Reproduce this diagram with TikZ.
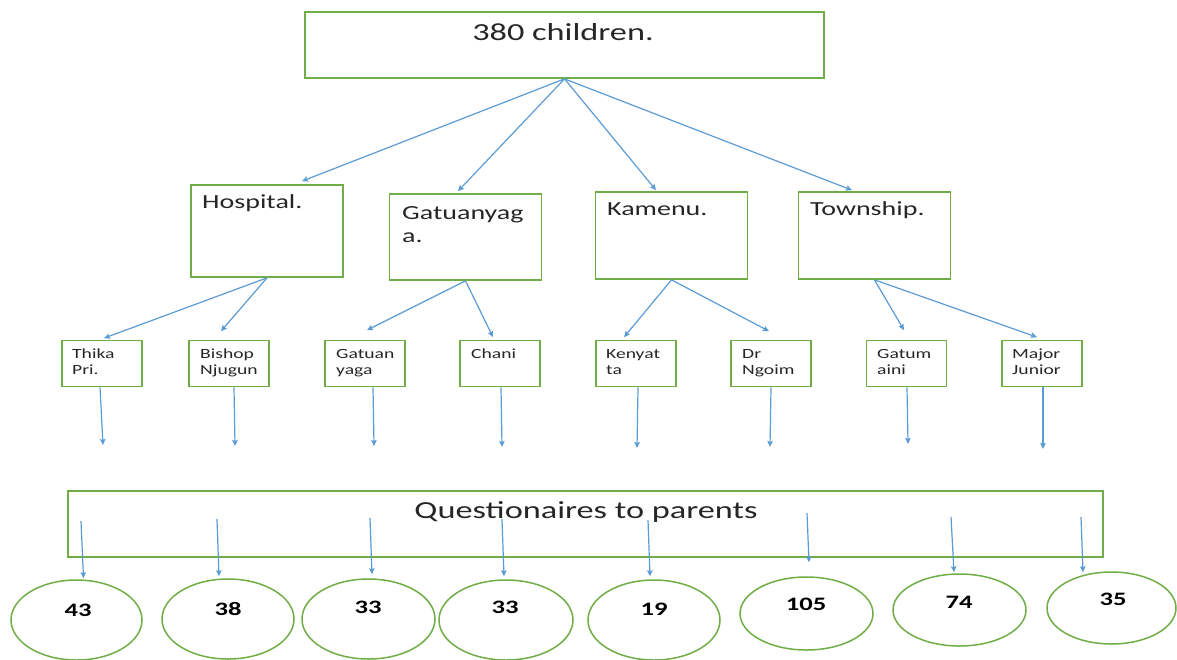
\documentclass[tikz,border=0pt]{standalone}
\usepackage{fontspec}
\setmainfont{Carlito}
\newfontfamily\cf[FakeStretch=1.4]{Carlito}
\usetikzlibrary{arrows.meta,shapes.geometric}
\definecolor{boxgreen}{HTML}{70AD47}
\definecolor{arrblue}{HTML}{5B9BD5}
\definecolor{txt}{HTML}{262626}
\tikzset{
  gbox/.style={draw=boxgreen,line width=1.7pt,rectangle,inner sep=0pt,fill=white},
  topbox/.style={gbox,minimum width=519pt,minimum height=66pt},
  midbox/.style={gbox,minimum width=152pt,minimum height=87pt},
  smallbox/.style={gbox,minimum width=80pt,minimum height=46pt},
  circ/.style={draw=boxgreen,line width=1.5pt,ellipse,inner sep=0pt},
  bigtxt/.style={inner sep=0pt,text=txt,font=\cf\fontsize{24.5}{29}\selectfont,anchor=base},
  midtxt/.style={inner sep=0pt,text=txt,font=\cf\fontsize{20}{23}\selectfont,anchor=base west,align=left},
  smalltxt/.style={inner sep=0pt,text=txt,font=\cf\fontsize{14}{16}\selectfont,anchor=base west,align=left},
  numtxt/.style={inner sep=0pt,text=black,font=\cf\bfseries\fontsize{19}{22}\selectfont,anchor=center},
  arr/.style={draw=arrblue,line width=1.2pt,-{Stealth[length=6pt,width=5.5pt,inset=1pt]}}
}
\begin{document}
\begin{tikzpicture}[x=1pt,y=-1pt]
\useasboundingbox (0,0) rectangle (1177,659);
\clip (0,0) rectangle (1177,659);
% top
\node[topbox] (top) at (564.5,45) {};
\node[bigtxt] (toptxt) at (563,40) {380 children.};
% middle boxes
\node[midbox,minimum height=92pt] (hosp) at (267,231) {};
\node[midbox,minimum height=86pt] (gat) at (465.5,237) {};
\node[midbox] (kam) at (671.5,235.5) {};
\node[midbox] (town) at (874.5,235.5) {};
\node[midtxt] (hosptxt) at (202,208) {Hospital.};
\node[midtxt] (gattxt) at (402,242) {Gatuanyag\\a.};
\node[midtxt] (kamtxt) at (607,215) {Kamenu.};
\node[midtxt] (towntxt) at (810,215) {Township.};
% small boxes
\node[smallbox] (thika) at (102,363.5) {};
\node[smallbox] (bishop) at (229,363.5) {};
\node[smallbox] (gatuan) at (365,363.5) {};
\node[smallbox] (chani) at (500,363.5) {};
\node[smallbox] (kenyatta) at (636,363.5) {};
\node[smallbox] (drngoim) at (771,363.5) {};
\node[smallbox] (gatum) at (906.5,363.5) {};
\node[smallbox] (major) at (1042,363.5) {};
\node[smalltxt] (thikatxt) at (72,374) {Thika\\Pri.};
\node[smalltxt] (bishoptxt) at (200,374) {Bishop\\Njugun};
\node[smalltxt] (gatuantxt) at (336,374) {Gatuan\\yaga};
\node[smalltxt] (chanitxt) at (471,358) {Chani};
\node[smalltxt] (kenyattatxt) at (606,374) {Kenyat\\ta};
\node[smalltxt] (drngoimtxt) at (742,374) {Dr\\Ngoim};
\node[smalltxt] (gatumtxt) at (877,374) {Gatum\\aini};
\node[smalltxt] (majortxt) at (1012,374) {Major\\Junior};
% questionnaire box
\node[gbox,minimum width=1035pt,minimum height=66pt] (quest) at (585.5,524) {};
\node[bigtxt] (questtxt) at (586,518) {Questionaires to parents};
% ellipses
\node[circ,minimum width=131pt,minimum height=80pt] (e1) at (76.5,620) {};
\node[circ,minimum width=132pt,minimum height=80pt] (e2) at (228,619) {};
\node[circ,minimum width=133pt,minimum height=80pt] (e3) at (368.5,619) {};
\node[circ,minimum width=134pt,minimum height=80pt] (e4) at (506,620) {};
\node[circ,minimum width=132pt,minimum height=80pt] (e5) at (654,620) {};
\node[circ,minimum width=133pt,minimum height=73pt] (e6) at (806.5,613.5) {};
\node[circ,minimum width=133pt,minimum height=72pt] (e7) at (959.5,610) {};
\node[circ,minimum width=129pt,minimum height=72pt] (e8) at (1111.5,608) {};
\node[numtxt] (n1) at (78,610) {43};
\node[numtxt] (n2) at (228,609) {38};
\node[numtxt] (n3) at (368,607) {33};
\node[numtxt] (n4) at (505,607) {33};
\node[numtxt] (n5) at (654,609) {19};
\node[numtxt] (n6) at (806,604) {105};
\node[numtxt] (n7) at (959,602) {74};
\node[numtxt] (n8) at (1113,599) {35};
% arrows top -> middle
\draw[arr] (top.south) -- ([xshift=35pt,yshift=3pt]hosp.north);
\draw[arr] (top.south) -- ([xshift=-7.5pt,yshift=2pt]gat.north);
\draw[arr] (top.south) -- ([xshift=-15.5pt,yshift=1pt]kam.north);
\draw[arr] (top.south) -- ([xshift=-22.5pt,yshift=1pt]town.north);
% middle -> small
\draw[arr] (hosp.south) -- ([xshift=2pt,yshift=1.5pt]thika.north);
\draw[arr] (hosp.south) -- ([xshift=-8pt,yshift=8.5pt]bishop.north);
\draw[arr] (gat.south) -- ([xshift=2pt,yshift=9.5pt]gatuan.north);
\draw[arr] (gat.south) -- ([xshift=-7pt,yshift=2.5pt]chani.north);
\draw[arr] (kam.south) -- ([xshift=-12pt,yshift=2.5pt]kenyatta.north);
\draw[arr] (kam.south) -- ([xshift=-2pt,yshift=8.5pt]drngoim.north);
\draw[arr] (town.south) -- ([xshift=-2.5pt,yshift=9.5pt]gatum.north);
\draw[arr] (town.south) -- ([xshift=-5pt,yshift=2.5pt]major.north);
% small -> down (free ends)
\coordinate (d1) at (103,445);
\coordinate (d2) at (235,446);
\coordinate (d3) at (374,446);
\coordinate (d4) at (502,447);
\coordinate (d5) at (637,448);
\coordinate (d6) at (770,447);
\coordinate (d7) at (908,444);
\coordinate (d8) at (1043,449);
\draw[arr] ([xshift=-2pt]thika.south) -- (d1);
\draw[arr] ([xshift=5pt]bishop.south) -- (d2);
\draw[arr] ([xshift=8pt]gatuan.south) -- (d3);
\draw[arr] ([xshift=1pt]chani.south) -- (d4);
\draw[arr] ([xshift=2pt]kenyatta.south) -- (d5);
\draw[arr] (drngoim.south) -- (d6);
\draw[arr] ([xshift=0.5pt]gatum.south) -- (d7);
\draw[arr] ([xshift=1pt]major.south) -- (d8);
% questionnaire -> ellipses
\coordinate (q1) at (81,521);
\coordinate (q2) at (217,519);
\coordinate (q3) at (370,518);
\coordinate (q4) at (502,519);
\coordinate (q5) at (648,520);
\coordinate (q6) at (807,513);
\coordinate (q7) at (951,517);
\coordinate (q8) at (1081,517);
\draw[arr] (q1) -- ([xshift=7pt,yshift=1pt]e1.north);
\draw[arr] (q2) -- ([xshift=-9pt,yshift=2pt]e2.north);
\draw[arr] (q3) -- ([xshift=3.5pt,yshift=4pt]e3.north);
\draw[arr] (q4) -- ([xshift=-2pt,yshift=3pt]e4.north);
\draw[arr] (q5) -- ([xshift=-4pt,yshift=3pt]e5.north);
\draw[arr] (q6) -- ([xshift=2.5pt,yshift=14pt]e6.north);
\draw[arr] (q7) -- ([xshift=-5.5pt,yshift=1pt]e7.north);
\draw[arr] (q8) -- ([xshift=-28.5pt,yshift=-1pt]e8.north);
\end{tikzpicture}
\end{document}
